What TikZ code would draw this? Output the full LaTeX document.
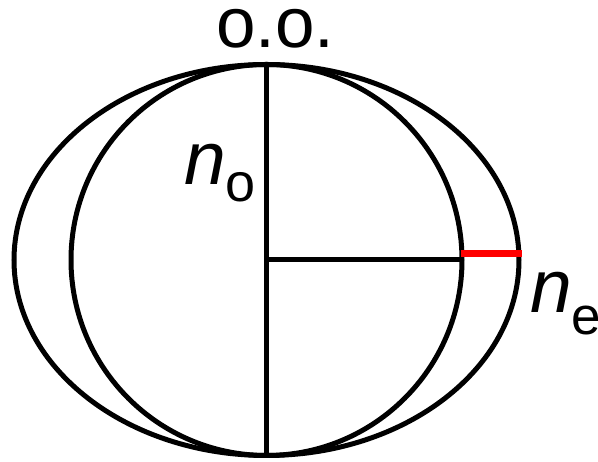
\documentclass[tikz,border=0pt]{standalone}
\usepackage{fontspec}
\setmainfont{Liberation Sans}
\begin{document}
\begin{tikzpicture}[x=1pt,y=1pt,
  curve/.style={line width=5pt,black},
  redseg/.style={line width=7pt,red},
  lbl/.style={inner sep=0pt,anchor=base west}]
\useasboundingbox (0,0) rectangle (598,462);
\coordinate (c) at (266.5,202);
\draw[curve] (c) ellipse [x radius=252.5, y radius=195.5];
\draw[curve] (c) circle [radius=195.5];
\coordinate (top) at (266.5,397.5);
\coordinate (bot) at (266.5,6.5);
\coordinate (cr) at (462,202);
\coordinate (r1) at (461,208.5);
\coordinate (r2) at (522,208.5);
\draw[curve] (top) -- (bot);
\draw[curve] (c) -- (cr);
\draw[redseg] (r1) -- (r2);
\node[lbl] (oo) at (216,414) {\fontsize{71}{80}\selectfont o.o.};
\node[lbl] (no) at (184,277) {\fontsize{75}{80}\selectfont\itshape n\raisebox{-17pt}{\upshape\fontsize{54}{60}\selectfont o}};
\node[lbl] (ne) at (530,149) {\fontsize{75}{80}\selectfont\itshape n\raisebox{-22pt}{\upshape\fontsize{53}{60}\selectfont e}};
\end{tikzpicture}
\end{document}
